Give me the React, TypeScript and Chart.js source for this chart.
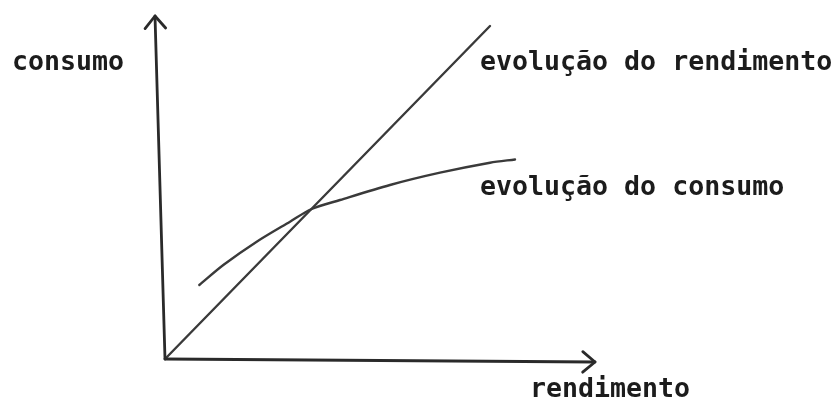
import React, { useEffect, useRef } from "react";
import { Chart, registerables } from "chart.js";

Chart.register(...registerables);

// Sketch in arbitrary units (rendimento on x, consumo on y)
const rendimentoX = [0, 32.5];
const rendimentoY = [0, 33.3];

const consumoX = [3.43, 5.83, 9.17, 12.5, 14.67, 17.5, 22.5, 27.5, 32.5, 35.0];
const consumoY = [7.4, 9.4, 11.73, 13.73, 15.0, 15.9, 17.4, 18.63, 19.63, 19.95];

const yAxisX = [0, -1.0];
const yAxisY = [0, 34.3];
const xAxisX = [0, 43.0];
const xAxisY = [0, -0.3];

const labelTexts = ["consumo", "evolução do rendimento", "evolução do consumo", "rendimento"];
const labelX = [-15.3, 31.5, 31.5, 36.5];
const labelY = [28.9, 28.9, 16.4, -3.75];

const toPts = (xs: number[], ys: number[]) => xs.map((x, i) => ({ x, y: ys[i] }));

const arrowPlugin = {
  id: "arrowHeads",
  afterDatasetsDraw(chart: any) {
    const ctx = chart.ctx;
    chart.data.datasets.forEach((ds: any, i: number) => {
      if (!ds.arrow) return;
      const meta = chart.getDatasetMeta(i);
      const pts = meta.data;
      const a = pts[pts.length - 2];
      const b = pts[pts.length - 1];
      const ang = Math.atan2(b.y - a.y, b.x - a.x);
      const len = 16;
      const spread = (40 * Math.PI) / 180;
      ctx.save();
      ctx.strokeStyle = ds.borderColor;
      ctx.lineWidth = ds.borderWidth;
      ctx.lineCap = "round";
      ctx.lineJoin = "round";
      ctx.beginPath();
      ctx.moveTo(b.x - len * Math.cos(ang - spread), b.y - len * Math.sin(ang - spread));
      ctx.lineTo(b.x, b.y);
      ctx.lineTo(b.x - len * Math.cos(ang + spread), b.y - len * Math.sin(ang + spread));
      ctx.stroke();
      ctx.restore();
    });
  },
};

const textPlugin = {
  id: "sketchLabels",
  afterDraw(chart: any) {
    const ctx = chart.ctx;
    const xs = chart.scales.x;
    const ys = chart.scales.y;
    ctx.save();
    ctx.fillStyle = "#1c1c1c";
    ctx.font = "bold 26.6px 'DejaVu Sans Mono'";
    ctx.textAlign = "left";
    ctx.textBaseline = "alphabetic";
    labelTexts.forEach((t, i) => {
      ctx.fillText(t, xs.getPixelForValue(labelX[i]), ys.getPixelForValue(labelY[i]));
    });
    ctx.restore();
  },
};

export default function App() {
  const ref = useRef<HTMLCanvasElement | null>(null);

  useEffect(() => {
    document.body.style.margin = "0";
    document.body.style.background = "#ffffff";
    const canvas = ref.current!;
    const lineDs = (label: string, data: any[], color: string, width: number, extra: any = {}) => ({
      label,
      data,
      borderColor: color,
      borderWidth: width,
      pointRadius: 0,
      fill: false,
      borderCapStyle: "round",
      ...extra,
    });
    const chart = new Chart(canvas, {
      type: "scatter",
      data: {
        datasets: [
          lineDs("eixo consumo", toPts(yAxisX, yAxisY), "#2a2a2a", 2.8, { showLine: true, arrow: true }),
          lineDs("eixo rendimento", toPts(xAxisX, xAxisY), "#2a2a2a", 2.8, { showLine: true, arrow: true }),
          lineDs("evolução do rendimento", toPts(rendimentoX, rendimentoY), "#3a3a3a", 2.4, { showLine: true }),
          lineDs("evolução do consumo", toPts(consumoX, consumoY), "#3a3a3a", 2.4, {
            showLine: true,
            tension: 0.3,
          }),
        ] as any,
      },
      options: {
        animation: false,
        responsive: false,
        devicePixelRatio: 1,
        layout: { padding: 0 },
        plugins: { legend: { display: false }, tooltip: { enabled: false } },
        scales: {
          x: { type: "linear", min: -16.5, max: 67, display: false },
          y: { type: "linear", min: -3.9, max: 35.9, display: false },
        },
      },
      plugins: [arrowPlugin, textPlugin],
    });
    return () => chart.destroy();
  }, []);

  return (
    <div style={{ position: "absolute", left: 0, top: 0, width: 835, height: 398, background: "#fff" }}>
      <canvas ref={ref} width={835} height={398} style={{ display: "block" }} />
    </div>
  );
}
